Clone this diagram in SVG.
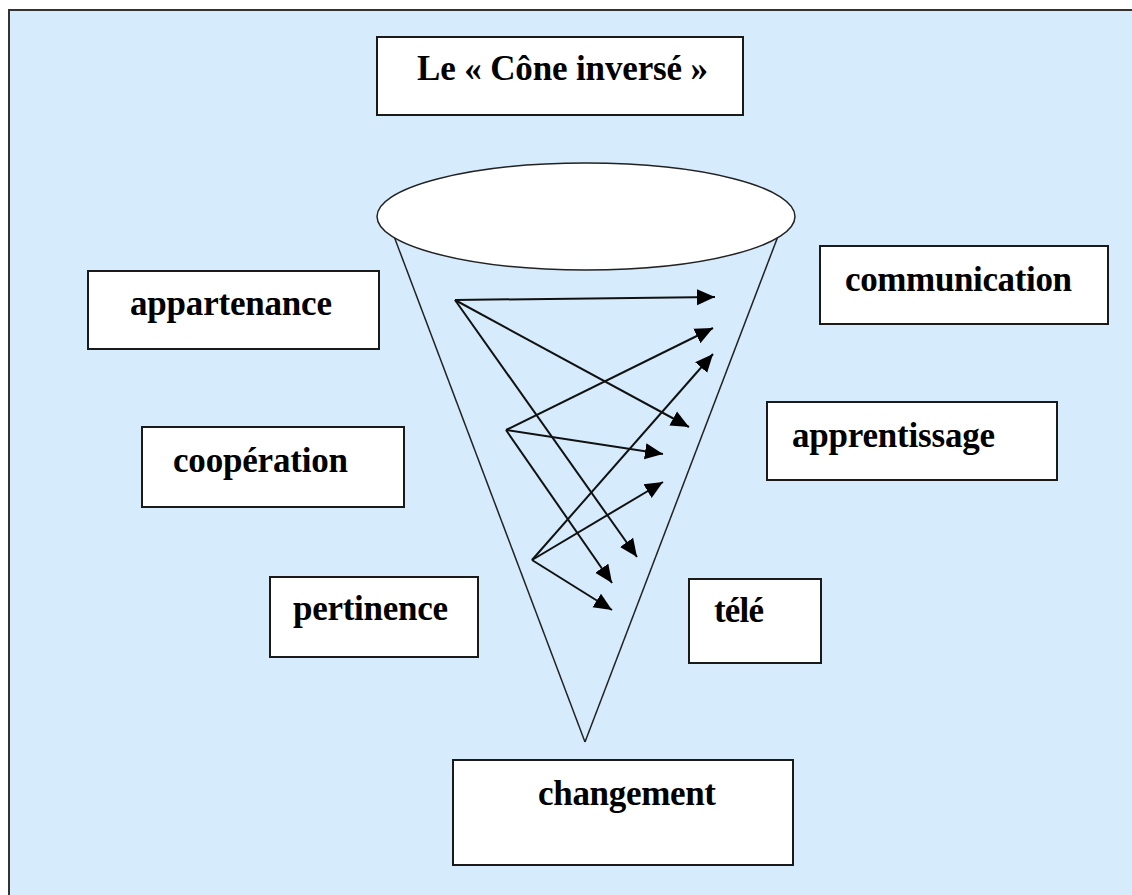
<svg xmlns="http://www.w3.org/2000/svg" width="1132" height="895" viewBox="0 0 1132 895">
<style>
.box{fill:#ffffff;stroke:#1a1a1a;stroke-width:2}
.lbl{font-family:"Liberation Serif","Times New Roman",serif;font-weight:bold;font-size:35px;fill:#000}
.cone{fill:none;stroke:#222;stroke-width:1.5}
.arr{stroke:#111;stroke-width:2;fill:none;marker-end:url(#ah)}
</style>
<defs>
<marker id="ah" markerUnits="userSpaceOnUse" markerWidth="20" markerHeight="18" refX="18" refY="9" orient="auto">
<path d="M0,1 L18,9 L0,17 Z" fill="#000"/>
</marker>
</defs>
<rect x="0" y="0" width="1132" height="895" fill="#ffffff"/>
<rect id="frame" x="9" y="10" width="1130" height="895" fill="#d6ecfc" stroke="#333" stroke-width="2"/>
<g id="cone">
<line class="cone" x1="392" y1="231" x2="585" y2="742"/>
<line class="cone" x1="780" y1="231" x2="585" y2="742"/>
<ellipse cx="586" cy="216.5" rx="209" ry="53.5" fill="#ffffff" stroke="#222" stroke-width="1.5"/>
</g>
<g id="title">
<rect class="box" x="377" y="37" width="366" height="78"/>
<text class="lbl" x="417" y="80" textLength="291">Le « Cône inversé »</text>
</g>
<g id="appartenance">
<rect class="box" x="88" y="271" width="291" height="78"/>
<text class="lbl" x="130" y="315" textLength="202">appartenance</text>
</g>
<g id="communication">
<rect class="box" x="820" y="246" width="288" height="78"/>
<text class="lbl" x="845" y="291" textLength="227">communication</text>
</g>
<g id="apprentissage">
<rect class="box" x="767" y="402" width="290" height="78"/>
<text class="lbl" x="792" y="447" textLength="203">apprentissage</text>
</g>
<g id="cooperation">
<rect class="box" x="142" y="427" width="262" height="80"/>
<text class="lbl" x="173" y="472" textLength="175">coopération</text>
</g>
<g id="pertinence">
<rect class="box" x="270" y="577" width="208" height="80"/>
<text class="lbl" x="293" y="620" textLength="155">pertinence</text>
</g>
<g id="tele">
<rect class="box" x="689" y="579" width="132" height="84"/>
<text class="lbl" x="714" y="622" textLength="50">télé</text>
</g>
<g id="changement">
<rect class="box" x="453" y="760" width="340" height="105"/>
<text class="lbl" x="538" y="805" textLength="178">changement</text>
</g>
<g id="connectors">
<line class="arr" x1="455" y1="300" x2="715" y2="297"/>
<line class="arr" x1="455" y1="300" x2="689" y2="427"/>
<line class="arr" x1="455" y1="300" x2="637" y2="557"/>
<line class="arr" x1="506" y1="430" x2="713" y2="328"/>
<line class="arr" x1="506" y1="430" x2="663" y2="454"/>
<line class="arr" x1="506" y1="430" x2="612" y2="583"/>
<line class="arr" x1="532" y1="560" x2="713" y2="354"/>
<line class="arr" x1="532" y1="560" x2="663" y2="482"/>
<line class="arr" x1="532" y1="560" x2="612" y2="610"/>
</g>
</svg>
